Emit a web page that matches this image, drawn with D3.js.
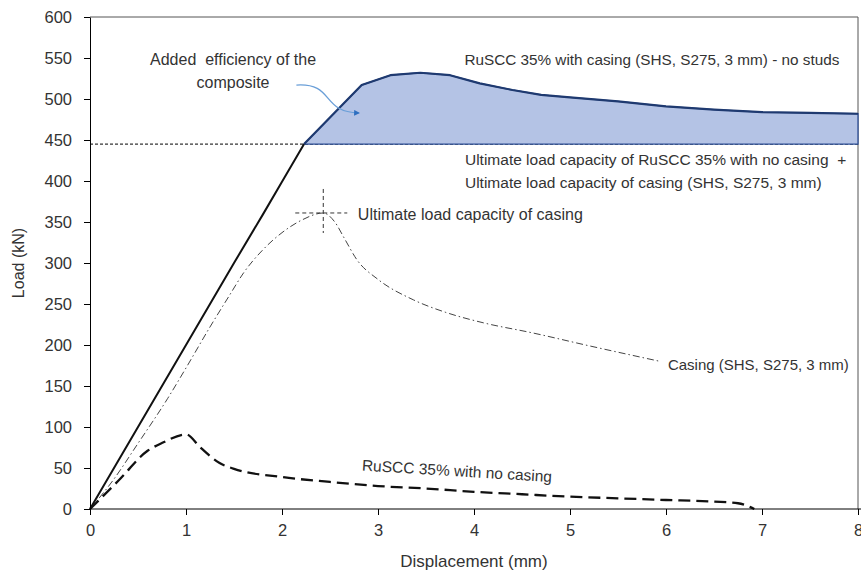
<!DOCTYPE html>
<html>
<head>
<meta charset="utf-8">
<script src="https://cdn.jsdelivr.net/npm/d3@7"></script>
<style>
  body { margin: 0; background: #fff; }
  svg { display: block; font-family: 'Liberation Sans', Arial, sans-serif; }
</style>
</head>
<body>
<div id="chart"></div>
<script>
// composite: RuSCC 35% with casing (SHS, S275, 3 mm) - no studs
const dispComposite = [0, 0.5, 1.0, 1.5, 1.8, 2.0, 2.23, 2.83, 3.13, 3.44, 3.75, 4.06, 4.4, 4.7, 5.0, 5.5, 6.0, 6.5, 7.0, 7.5, 8.0];
const loadComposite = [0, 100, 200, 300, 359, 399, 445, 517, 529, 532, 529, 519, 511, 505, 502, 497, 491, 487, 484, 483, 482];

// casing only
const dispCasing = [0, 0.24, 0.5, 0.81, 1.0, 1.25, 1.45, 1.6, 1.8, 2.0, 2.2, 2.43, 2.55, 2.65, 2.78, 3.0, 3.37, 3.7, 4.1, 4.6, 5.2, 5.94];
const loadCasing = [0, 35, 80, 135, 172, 222, 260, 288, 316, 337, 352, 361, 350, 330, 304, 280, 255, 240, 227, 215, 199, 180];

// RuSCC 35% with no casing
const dispPlain = [0, 0.3, 0.6, 0.76, 1.0, 1.15, 1.35, 1.5, 2.0, 2.5, 3.0, 3.5, 4.0, 4.5, 5.0, 5.5, 6.0, 6.5, 6.75, 6.92];
const loadPlain = [0, 35, 71, 81, 91, 75, 56, 49, 39, 33, 28, 25, 21, 18, 15, 13, 11, 9, 7, 0];

const sumCapacity = 445;   // plain peak + casing peak
const casingPeak = [2.43, 361];

const xTicks = [0, 1, 2, 3, 4, 5, 6, 7, 8];
const yTicks = [0, 50, 100, 150, 200, 250, 300, 350, 400, 450, 500, 550, 600];

const width = 861
    , height = 575
    , margin = { top: 17, right: 3, bottom: 66, left: 90 }
    , textColor = '#333'
    , fillColor = '#b4c3e5'
    , navy = '#1f3a70'
    ;

const zip = (xs, ys) => xs.map((d, i) => [d, ys[i]]);

const svg = d3.select('#chart').append('svg')
  .attr('width', width)
  .attr('height', height);

const x = d3.scaleLinear().domain([0, 8]).range([margin.left, width - margin.right]);
const y = d3.scaleLinear().domain([0, 600]).range([height - margin.bottom, margin.top]);

const smooth = d3.line()
  .x(d => x(d[0]))
  .y(d => y(d[1]))
  .curve(d3.curveMonotoneX);

const straight = d3.line()
  .x(d => x(d[0]))
  .y(d => y(d[1]));

// plot frame (top + right)
svg.append('path')
  .attr('d', `M${x(0)},${y(600)}H${x(8)}V${y(0)}`)
  .attr('fill', 'none')
  .attr('stroke', '#555')
  .attr('stroke-width', 1);

// dashed sum line
svg.append('line')
  .attr('x1', x(0)).attr('x2', x(8))
  .attr('y1', y(sumCapacity)).attr('y2', y(sumCapacity))
  .attr('stroke', '#000')
  .attr('stroke-width', 1)
  .attr('stroke-dasharray', '3,2');

// filled area between composite and sum line
const compPts = zip(dispComposite, loadComposite);
const upper = compPts.filter(d => d[0] >= 2.23);
svg.append('path')
  .datum(upper)
  .attr('d', d3.area()
    .x(d => x(d[0]))
    .y0(y(sumCapacity))
    .y1(d => y(d[1])))
  .attr('fill', fillColor)
  .attr('stroke', '#2d4f96')
  .attr('stroke-width', 1.3);

// composite line
svg.append('path')
  .datum(compPts.filter(d => d[0] <= 2.23))
  .attr('d', straight)
  .attr('fill', 'none')
  .attr('stroke', '#111')
  .attr('stroke-width', 2);

svg.append('path')
  .datum(upper)
  .attr('d', straight)
  .attr('fill', 'none')
  .attr('stroke', navy)
  .attr('stroke-width', 2.2)
  .attr('stroke-linejoin', 'round');

// casing (dash-dot)
svg.append('path')
  .datum(zip(dispCasing, loadCasing))
  .attr('d', smooth)
  .attr('fill', 'none')
  .attr('stroke', '#444')
  .attr('stroke-width', 1)
  .attr('stroke-dasharray', '7,3,1.5,3');

// no casing (long dash, thick)
svg.append('path')
  .datum(zip(dispPlain, loadPlain))
  .attr('d', smooth)
  .attr('fill', 'none')
  .attr('stroke', '#111')
  .attr('stroke-width', 2.3)
  .attr('stroke-dasharray', '12,6');

// crosshair at casing peak
const cx = x(casingPeak[0]), cy = y(casingPeak[1]);
svg.append('line')
  .attr('x1', cx).attr('x2', cx).attr('y1', cy - 24).attr('y2', cy + 20)
  .attr('stroke', '#333').attr('stroke-width', 1).attr('stroke-dasharray', '4,3');
svg.append('line')
  .attr('x1', cx - 28).attr('x2', cx + 24).attr('y1', cy).attr('y2', cy)
  .attr('stroke', '#333').attr('stroke-width', 1).attr('stroke-dasharray', '4,3');

// axes
const xAxis = svg.append('g')
  .attr('transform', `translate(0,${y(0)})`)
  .call(d3.axisBottom(x).tickValues(xTicks).tickSize(6).tickSizeOuter(0).tickFormat(d3.format('d')));
xAxis.select('.domain').attr('d', `M${x(0)},0H${width}`);

const yAxis = svg.append('g')
  .attr('transform', `translate(${x(0)},0)`)
  .call(d3.axisLeft(y).tickValues(yTicks).tickSize(6).tickSizeOuter(0));

svg.selectAll('.tick text')
  .attr('fill', textColor)
  .style('font-size', '16.5px');
xAxis.selectAll('.tick text').attr('dy', '1.1em');
yAxis.selectAll('.tick text').attr('x', -18);
svg.selectAll('.domain, .tick line').attr('stroke', '#000');

// axis titles
svg.append('text')
  .attr('x', x(4))
  .attr('y', height - 8)
  .attr('text-anchor', 'middle')
  .attr('fill', textColor)
  .style('font-size', '17px')
  .text('Displacement (mm)');

svg.append('text')
  .attr('transform', `translate(24,${y(300)}) rotate(-90)`)
  .attr('text-anchor', 'middle')
  .attr('fill', textColor)
  .style('font-size', '16px')
  .text('Load (kN)');

// annotations
function note(txt, px, py, size, anchor) {
  return svg.append('text')
    .attr('x', px).attr('y', py)
    .attr('text-anchor', anchor || 'start')
    .attr('fill', textColor)
    .style('font-size', size + 'px')
    .text(txt);
}

note('Added\u00a0 efficiency of the', x(1.49), y(541), 16, 'middle');
note('composite', x(1.49), y(514), 16, 'middle');
note('RuSCC 35% with casing (SHS, S275, 3 mm) - no studs', x(3.9), y(541), 15.3);
note('Ultimate load capacity of RuSCC 35% with no casing\u00a0 +', x(3.906), y(419.5), 15.5);
note('Ultimate load capacity of casing (SHS, S275, 3 mm)', x(3.906), y(391.5), 15.5);
note('Ultimate load capacity of casing', x(2.79), y(352), 16);
note('Casing (SHS, S275, 3 mm)', x(6.02), y(169.5), 15);

svg.append('text')
  .attr('transform', `translate(${x(2.83)},${y(47)}) rotate(3.5)`)
  .attr('fill', textColor)
  .style('font-size', '15.5px')
  .text('RuSCC 35% with no casing');

// curved arrow
svg.append('defs').append('marker')
  .attr('id', 'head')
  .attr('viewBox', '0 0 10 10')
  .attr('refX', 8).attr('refY', 5)
  .attr('markerWidth', 4.5).attr('markerHeight', 4.5)
  .attr('orient', 'auto')
  .append('path')
    .attr('d', 'M0,0L10,5L0,10z')
    .attr('fill', '#2e6fc0');

const a0 = [x(2.15), y(517)], c1 = [x(2.55), y(520)], c2 = [x(2.4), y(484)], a1 = [x(2.8), y(483)];
svg.append('path')
  .attr('d', `M${a0}C${c1} ${c2} ${a1}`)
  .attr('fill', 'none')
  .attr('stroke', '#6a9fd8')
  .attr('stroke-width', 1.3)
  .attr('marker-end', 'url(#head)');
</script>
</body>
</html>
